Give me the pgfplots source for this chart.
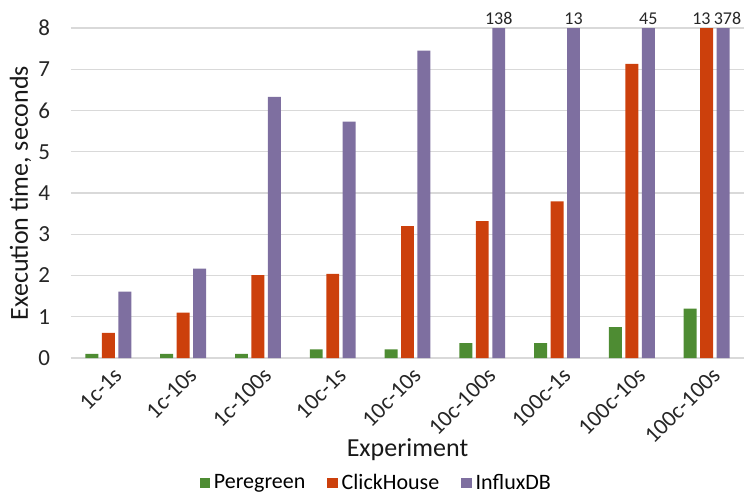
\documentclass[border=0pt]{standalone}
\usepackage{pgfplots}
\pgfplotsset{compat=1.18}
\usepackage{fontspec}
\setmainfont{Carlito}
\definecolor{cgreen}{RGB}{78,140,51}
\definecolor{corange}{RGB}{204,64,12}
\definecolor{cpurple}{RGB}{126,111,160}
\definecolor{cgrid}{RGB}{217,217,217}
\begin{document}
\begin{tikzpicture}
\path[use as bounding box] (0,0) rectangle (372pt,247.5pt);
\begin{axis}[
  at={(35.5pt,68.5pt)}, anchor=south west,
  scale only axis, width=336.5pt, height=165pt,
  ybar, bar width=0.173, 
  xmin=-0.5, xmax=8.5, ymin=0, ymax=8,
  xtick=data,
  xticklabels={1c-1s,1c-10s,1c-100s,10c-1s,10c-10s,10c-100s,100c-1s,100c-10s,100c-100s},
  ytick={0,1,...,8},
  /pgf/number format/assume math mode=true,
  axis line style={draw=none},
  major tick length=0pt,
  ymajorgrids, grid style={cgrid, line width=0.6pt},
  tick label style={font=\fontsize{11.5}{13}\selectfont, text=black!85},
  yticklabel style={xshift=-7pt},
  xticklabel style={rotate=45, anchor=north east, xshift=2pt, yshift=-1pt},
  ylabel={Execution time, seconds},
  xlabel={Experiment},
  label style={font=\fontsize{13}{15}\selectfont, text=black!90},
  ylabel style={at={(axis description cs:-0.075,0.5)}, anchor=center},
  xlabel style={at={(axis description cs:0.5,-0.279)}, anchor=center},
  legend style={at={(0.455,-0.379)}, anchor=center, draw=none, legend columns=3,
    font=\fontsize{11}{12}\selectfont, /tikz/every even column/.append style={column sep=9pt}},
  legend image code/.code={\fill[#1] (0pt,-2.6pt) rectangle (5.2pt,2.6pt);},
  clip=false,
]
\addplot[fill=cgreen, draw=none, bar shift=-0.22] coordinates {
 (0,0.1) (1,0.1) (2,0.1) (3,0.21) (4,0.21) (5,0.36) (6,0.36) (7,0.75) (8,1.20)};
\addplot[fill=corange, draw=none, bar shift=0] coordinates {
 (0,0.61) (1,1.10) (2,2.01) (3,2.04) (4,3.20) (5,3.32) (6,3.80) (7,7.13) (8,8)};
\addplot[fill=cpurple, draw=none, bar shift=0.22] coordinates {
 (0,1.61) (1,2.17) (2,6.33) (3,5.73) (4,7.45) (5,8) (6,8) (7,8) (8,8)};
\legend{Peregreen,ClickHouse,InfluxDB}
\begin{scope}[every node/.style={font=\fontsize{9}{10}\selectfont, anchor=south, inner sep=1.5pt, text=black!85}]
\node at (axis cs:5.22,8) {138};
\node at (axis cs:6.22,8) {13};
\node at (axis cs:7.22,8) {45};
\node at (axis cs:7.93,8) {13};
\node at (axis cs:8.28,8) {378};
\end{scope}
\end{axis}
\end{tikzpicture}
\end{document}
